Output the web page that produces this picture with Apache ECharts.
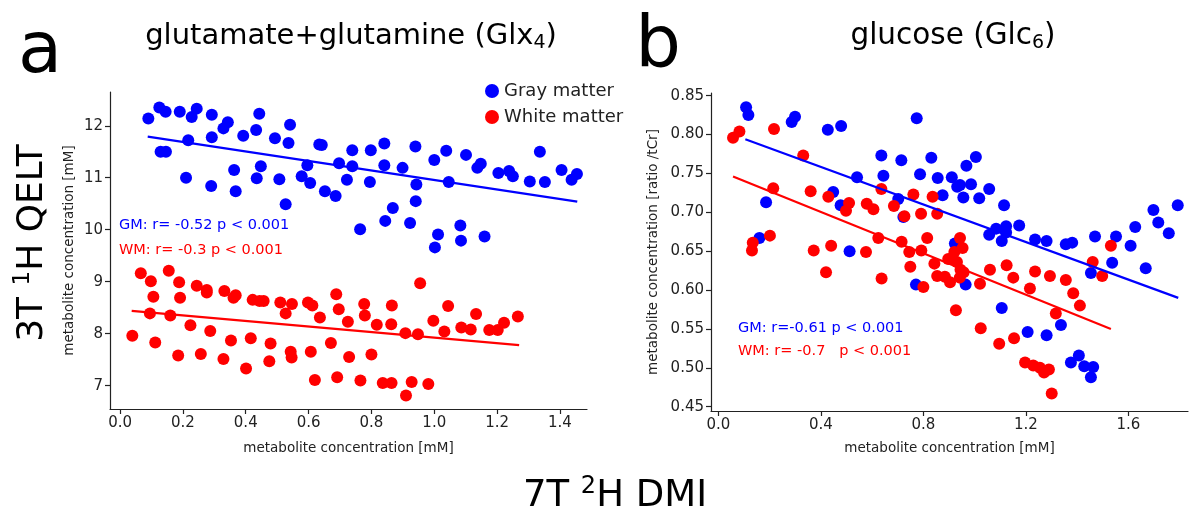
<!DOCTYPE html>
<html><head><meta charset="utf-8">
<script src="https://cdn.jsdelivr.net/npm/echarts@6/dist/echarts.min.js"></script>
<style>html,body{margin:0;padding:0;background:#fff}#c{width:1190px;height:512px}</style>
</head><body><div id="c"></div>
<script>
// ---- data: panel a (Glx4), x = 7T 2H DMI [mM], y = 3T 1H QELT [mM]
const glxGM = [[0.090,12.14],[0.125,12.35],[0.145,12.27],[0.190,12.27],[0.228,12.17],[0.244,12.33],[0.292,12.21],[0.329,11.95],[0.343,12.07],[0.443,12.23],[0.433,11.92],[0.392,11.81],[0.292,11.78],[0.217,11.72],[0.129,11.50],[0.146,11.50],[0.493,11.76],[0.541,12.02],[0.536,11.67],[0.634,11.64],[0.642,11.63],[0.210,11.00],[0.290,10.84],[0.363,11.15],[0.368,10.74],[0.435,10.99],[0.448,11.22],[0.507,10.97],[0.527,10.49],[0.578,11.03],[0.596,11.24],[0.605,10.90],[0.652,10.74],[0.686,10.65],[0.697,11.28],[0.722,10.96],[0.739,11.53],[0.739,11.22],[0.798,11.53],[0.841,11.66],[0.841,11.24],[0.795,10.92],[0.899,11.19],[0.940,11.60],[0.943,10.87],[0.941,10.55],[0.868,10.42],[0.844,10.17],[0.764,10.01],[0.923,10.13],[1.000,11.34],[1.038,11.52],[1.046,10.92],[1.012,9.91],[1.002,9.66],[1.083,10.08],[1.085,9.79],[1.160,9.87],[1.101,11.44],[1.137,11.19],[1.148,11.27],[1.204,11.09],[1.238,11.13],[1.250,11.03],[1.304,10.93],[1.336,11.50],[1.352,10.92],[1.405,11.15],[1.437,10.96],[1.454,11.07]];
const glxWM = [[0.066,9.16],[0.098,9.01],[0.106,8.71],[0.095,8.39],[0.039,7.96],[0.112,7.83],[0.155,9.21],[0.188,8.99],[0.191,8.69],[0.160,8.35],[0.224,8.16],[0.185,7.58],[0.244,8.92],[0.276,8.84],[0.276,8.79],[0.287,8.05],[0.257,7.61],[0.332,8.82],[0.361,8.69],[0.368,8.74],[0.353,7.87],[0.329,7.51],[0.401,7.33],[0.416,7.91],[0.422,8.65],[0.444,8.63],[0.457,8.63],[0.479,7.81],[0.475,7.47],[0.510,8.60],[0.547,8.57],[0.527,8.39],[0.543,7.65],[0.546,7.54],[0.598,8.60],[0.612,8.54],[0.636,8.31],[0.607,7.65],[0.620,7.11],[0.671,7.82],[0.688,8.76],[0.696,8.47],[0.691,7.16],[0.725,8.23],[0.729,7.55],[0.765,7.10],[0.777,8.57],[0.779,8.35],[0.800,7.60],[0.817,8.17],[0.836,7.05],[0.865,8.54],[0.863,8.18],[0.864,7.05],[0.908,8.01],[0.910,6.81],[0.928,7.07],[0.948,7.99],[0.955,8.97],[0.981,7.03],[0.997,8.25],[1.032,8.04],[1.044,8.53],[1.086,8.12],[1.116,8.08],[1.133,8.38],[1.175,8.07],[1.202,8.07],[1.222,8.21],[1.266,8.33]];
const glxGMFit = [[0.088,11.79],[1.455,10.54]];
const glxWMFit = [[0.037,8.44],[1.270,7.78]];
const glxXTicks = [0,0.2,0.4,0.6,0.8,1.0,1.2,1.4];
const glxYTicks = [7,8,9,10,11,12];

// ---- data: panel b (Glc6), x = 7T 2H DMI [mM], y = 3T 1H QELT [ratio /tCr]
const glcGM = [[0.108,0.835],[0.117,0.825],[0.186,0.713],[0.160,0.667],[0.286,0.816],[0.299,0.823],[0.427,0.806],[0.479,0.811],[0.448,0.726],[0.477,0.709],[0.541,0.745],[0.636,0.773],[0.644,0.747],[0.714,0.767],[0.702,0.717],[0.722,0.694],[0.774,0.821],[0.787,0.749],[0.512,0.650],[0.831,0.770],[0.856,0.744],[0.911,0.745],[1.005,0.771],[0.968,0.760],[0.932,0.733],[0.943,0.735],[0.986,0.736],[0.875,0.722],[0.956,0.719],[1.018,0.718],[1.057,0.730],[1.115,0.709],[1.174,0.683],[1.084,0.679],[1.057,0.671],[1.123,0.682],[1.123,0.674],[1.106,0.663],[1.236,0.665],[1.281,0.663],[1.356,0.659],[1.381,0.661],[1.470,0.669],[1.552,0.669],[1.627,0.681],[1.698,0.703],[1.717,0.687],[1.758,0.673],[1.793,0.709],[1.609,0.657],[0.923,0.660],[0.771,0.607],[0.965,0.607],[1.106,0.577],[1.207,0.546],[1.281,0.542],[1.337,0.555],[1.376,0.507],[1.407,0.516],[1.428,0.502],[1.463,0.501],[1.454,0.488],[1.454,0.622],[1.537,0.635],[1.668,0.628]];
const glcWM = [[0.057,0.796],[0.082,0.804],[0.217,0.807],[0.331,0.773],[0.214,0.731],[0.360,0.727],[0.429,0.720],[0.498,0.702],[0.510,0.712],[0.579,0.711],[0.605,0.704],[0.636,0.730],[0.624,0.667],[0.685,0.708],[0.726,0.695],[0.761,0.723],[0.791,0.698],[0.201,0.670],[0.134,0.661],[0.715,0.662],[0.836,0.720],[0.854,0.698],[0.815,0.667],[0.943,0.667],[0.953,0.654],[1.532,0.657],[0.131,0.651],[0.372,0.651],[0.440,0.657],[0.420,0.623],[0.576,0.649],[0.637,0.615],[0.745,0.649],[0.749,0.630],[0.792,0.651],[0.800,0.604],[0.843,0.634],[0.854,0.618],[0.884,0.617],[0.904,0.610],[0.897,0.640],[0.921,0.649],[0.931,0.636],[0.945,0.626],[0.957,0.623],[0.942,0.616],[0.927,0.574],[1.021,0.608],[1.024,0.551],[1.060,0.626],[1.125,0.632],[1.151,0.616],[1.216,0.602],[1.236,0.624],[1.294,0.618],[1.356,0.613],[1.385,0.596],[1.411,0.580],[1.317,0.570],[1.096,0.531],[1.154,0.538],[1.197,0.507],[1.229,0.503],[1.255,0.500],[1.271,0.494],[1.290,0.498],[1.301,0.467],[1.461,0.636],[1.498,0.618]];
const glcGMFit = [[0.105,0.794],[1.795,0.590]];
const glcWMFit = [[0.057,0.746],[1.532,0.550]];
const glcXTicks = [0,0.4,0.8,1.2,1.6];
const glcYTicks = [0.45,0.50,0.55,0.60,0.65,0.70,0.75,0.80,0.85];

const FONT = '"DejaVu Sans", Verdana, sans-serif';
const INK = '#222';
const BLUE = '#0000ff', RED = '#ff0000';

function xAx(gi, min, max, ticks, dec, gap) {
  return {type:'value', gridIndex:gi, min, max,
    name:'metabolite concentration [mM]', nameLocation:'middle', nameGap:gap,
    nameTextStyle:{fontFamily:FONT, fontSize:13.5, color:INK},
    axisLine:{show:true, onZero:false, lineStyle:{color:INK, width:1.2}},
    axisTick:{show:true, length:5, customValues:ticks, lineStyle:{color:INK, width:1.2}},
    axisLabel:{customValues:ticks, formatter:v=>(+v).toFixed(dec), fontFamily:FONT, fontSize:15, color:INK, margin:7},
    splitLine:{show:false}};
}
function yAx(gi, min, max, ticks, dec, name, gap) {
  return {type:'value', gridIndex:gi, min, max,
    name, nameLocation:'middle', nameGap:gap,
    nameTextStyle:{fontFamily:FONT, fontSize:13.5, color:INK},
    axisLine:{show:true, onZero:false, lineStyle:{color:INK, width:1.2}},
    axisTick:{show:true, length:5, customValues:ticks, lineStyle:{color:INK, width:1.2}},
    axisLabel:{customValues:ticks, formatter:v=>(+v).toFixed(dec), fontFamily:FONT, fontSize:15, color:INK, margin:7},
    splitLine:{show:false}};
}
function sc(name, gi, data, color) {
  return {type:'scatter', name, xAxisIndex:gi, yAxisIndex:gi, data, symbolSize:12,
    itemStyle:{color, opacity:1}, emphasis:{disabled:true}, z:2};
}
function fit(gi, data, color) {
  return {type:'line', xAxisIndex:gi, yAxisIndex:gi, data, symbol:'none',
    lineStyle:{color, width:2.2}, silent:true, z:3};
}
function txt(x, y, text, size, color) {
  return {type:'text', x, y, style:{text, font:size+'px '+FONT, fill:color, align:'left', verticalAlign:'middle'}};
}
function big(x, y, text) {
  return {type:'text', x, y, style:{text, font:'72px '+FONT, fill:'#000', align:'center', verticalAlign:'middle'}};
}

const chart = echarts.init(document.getElementById('c'), null, {renderer:'canvas'});
chart.setOption({
  animation:false,
  backgroundColor:'#fff',
  grid:[
    {left:110, top:92, width:477, height:317},
    {left:711, top:93, width:477, height:318}
  ],
  xAxis:[xAx(0,-0.032,1.486,glxXTicks,1,32), xAx(1,-0.029,1.833,glcXTicks,1,30)],
  yAxis:[yAx(0,6.55,12.65,glxYTicks,0,'metabolite concentration [mM]',34),
         yAx(1,0.4445,0.8534,glcYTicks,2,'metabolite concentration [ratio /tCr]',51)],
  legend:{orient:'vertical', left:480, top:77, itemWidth:14, itemHeight:14, itemGap:8,
    icon:'circle', textStyle:{fontFamily:FONT, fontSize:18, color:INK},
    data:['Gray matter','White matter'], selectedMode:false},
  series:[
    sc('Gray matter',0,glxGM,BLUE), sc('White matter',0,glxWM,RED),
    fit(0,glxGMFit,BLUE), fit(0,glxWMFit,RED),
    sc('Gray matter',1,glcGM,BLUE), sc('White matter',1,glcWM,RED),
    fit(1,glcGMFit,BLUE), fit(1,glcWMFit,RED)
  ],
  graphic:[
    big(40,53,'a'),
    big(658,47,'b'),
    {type:'text', x:351, y:36, style:{text:'{m|glutamate+glutamine (Glx}{s|4}{m|)}', align:'center', verticalAlign:'middle', fill:'#000',
      rich:{m:{fontFamily:FONT, fontSize:29, lineHeight:34}, s:{fontFamily:FONT, fontSize:19, lineHeight:21, verticalAlign:'bottom'}}}},
    {type:'text', x:953, y:36, style:{text:'{m|glucose (Glc}{s|6}{m|)}', align:'center', verticalAlign:'middle', fill:'#000',
      rich:{m:{fontFamily:FONT, fontSize:29.5, lineHeight:34}, s:{fontFamily:FONT, fontSize:19, lineHeight:21, verticalAlign:'bottom'}}}},
    {type:'text', x:33, y:243, rotation:Math.PI/2, style:{text:'{m|3T }{s|1}{m|H QELT}', align:'center', verticalAlign:'middle', fill:'#000',
      rich:{m:{fontFamily:FONT, fontSize:36, lineHeight:42}, s:{fontFamily:FONT, fontSize:23, lineHeight:25, verticalAlign:'top'}}}},
    {type:'text', x:615, y:496, style:{text:'{m|7T }{s|2}{m|H DMI}', align:'center', verticalAlign:'middle', fill:'#000',
      rich:{m:{fontFamily:FONT, fontSize:37, lineHeight:42}, s:{fontFamily:FONT, fontSize:24, lineHeight:26, verticalAlign:'top'}}}},
    txt(119,225,'GM: r= -0.52 p < 0.001',14.5,BLUE),
    txt(119,250,'WM: r= -0.3 p < 0.001',14.5,RED),
    txt(738,328,'GM: r=-0.61 p < 0.001',14.5,BLUE),
    txt(738,351,'WM: r= -0.7   p < 0.001',14.5,RED)
  ]
});
</script></body></html>
